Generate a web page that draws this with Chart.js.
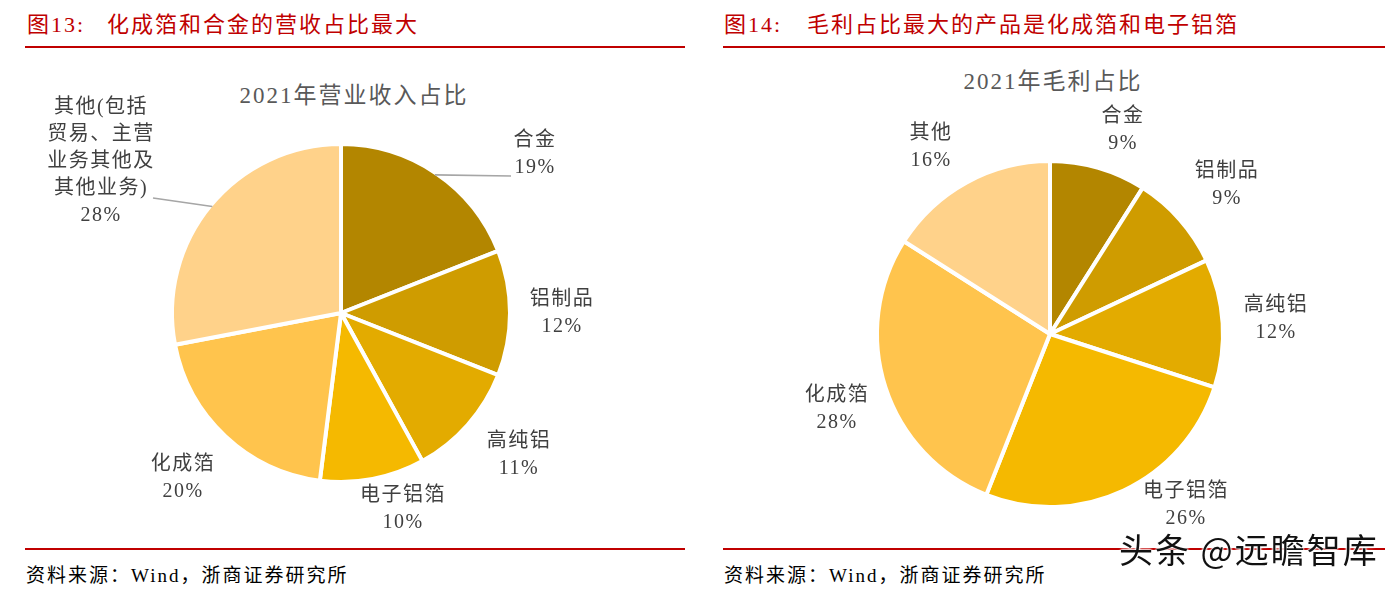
<!DOCTYPE html>
<html>
<head>
<meta charset="utf-8">
<script src="https://cdn.jsdelivr.net/npm/chart.js@4/dist/chart.umd.min.js"></script>
<style>
    body { margin: 0; width: 1394px; height: 593px; background: #fff; position: relative; overflow: hidden;
        font-family: "Liberation Serif", "Noto Sans CJK SC", serif; }
    .head { position: absolute; top: 14px; font-size: 22px; line-height: 1; color: #C00000; letter-spacing: 2px; white-space: nowrap; }
    .rule { position: absolute; height: 2px; background: #C00000; }
    .foot { position: absolute; top: 566px; font-size: 19px; line-height: 1; color: #000; letter-spacing: 2px; white-space: nowrap; }
    .ctitle { position: absolute; font-size: 23px; line-height: 1; color: #595959; letter-spacing: 2px; transform: translateX(-50%); white-space: nowrap; }
    .box { position: absolute; top: 60px; height: 485px; }
    .mark { position: absolute; left: 1119px; top: 532px; font-family: "Noto Sans CJK SC", sans-serif; font-size: 34px; line-height: 1;
        color: #111; letter-spacing: 2px; white-space: nowrap;
        text-shadow: 0 0 2px #fff, 0 0 2px #fff, 0 0 3px #fff, 0 0 3px #fff; }
</style>
</head>
<body>
<div class="head" style="left:27px">图13:</div>
<div class="head" style="left:107px">化成箔和合金的营收占比最大</div>
<div class="head" style="left:724px">图14:</div>
<div class="head" style="left:807px">毛利占比最大的产品是化成箔和电子铝箔</div>
<div class="rule" style="left:25px; width:660px; top:46px"></div>
<div class="rule" style="left:723px; width:662px; top:46px"></div>
<div class="rule" style="left:25px; width:660px; top:548px"></div>
<div class="rule" style="left:723px; width:662px; top:548px"></div>
<div class="foot" style="left:26px">资料来源：Wind，浙商证券研究所</div>
<div class="foot" style="left:724px">资料来源：Wind，浙商证券研究所</div>

<div class="ctitle" style="left:354px; top:84px">2021年营业收入占比</div>
<div class="ctitle" style="left:1053px; top:70px">2021年毛利占比</div>

<div class="box" style="left:25px; width:660px"><canvas id="revenueChart" width="660" height="485"></canvas></div>
<div class="box" style="left:723px; width:662px"><canvas id="profitChart" width="662" height="485"></canvas></div>

<div class="mark">头条 @远瞻智库</div>

<script>
// categories (clockwise from 12 o'clock)
const revenueLabels = [["合金"], ["铝制品"], ["高纯铝"], ["电子铝箔"], ["化成箔"], ["其他(包括", "贸易、主营", "业务其他及", "其他业务)"]];
const revenueValues = [19, 12, 11, 10, 20, 28];

const profitLabels = [["合金"], ["铝制品"], ["高纯铝"], ["电子铝箔"], ["化成箔"], ["其他"]];
const profitValues = [9, 9, 12, 26, 28, 16];

const sliceColors = ["#B38600", "#CF9C00", "#E3AB00", "#F5B900", "#FFC44D", "#FFD28A"];

// label placement, offset of first text line from pie centre
const revenueLabelPos = [[193, -172], [220, -13], [177, 129], [61, 183], [-159, 152], [-241, -205]];
const revenueLeaders = { 0: [170, -137], 5: [-188, -115] };
const profitLabelPos = [[72, -217], [176, -162], [225, -28], [135, 158], [-214, 62], [-120, -200]];

function labelPlugin(names, labelPos, leaders) {
    return {
        id: "sliceLabels",
        afterDatasetsDraw(chart) {
            const ctx = chart.ctx;
            const arcs = chart.getDatasetMeta(0).data;
            const values = chart.data.datasets[0].data;
            ctx.save();
            arcs.forEach((arc, i) => {
                const cx = arc.x, cy = arc.y;
                if (leaders[i]) {
                    const mid = (arc.startAngle + arc.endAngle) / 2;
                    const r = arc.outerRadius - 2;
                    ctx.beginPath();
                    ctx.strokeStyle = "#A6A6A6";
                    ctx.lineWidth = 1.6;
                    ctx.moveTo(cx + Math.cos(mid) * r, cy + Math.sin(mid) * r);
                    ctx.lineTo(cx + leaders[i][0], cy + leaders[i][1]);
                    ctx.stroke();
                }
                const lines = names[i].concat([values[i] + "%"]);
                ctx.fillStyle = "#404040";
                ctx.font = '20px "Liberation Serif", "Noto Sans CJK SC", serif';
                ctx.letterSpacing = "1.5px";
                ctx.textAlign = "center";
                ctx.textBaseline = "middle";
                lines.forEach((t, k) => {
                    ctx.fillText(t, cx + labelPos[i][0] + 1, cy + labelPos[i][1] + k * 27);
                });
            });
            ctx.restore();
        }
    };
}

function pieChart(id, names, values, padding, labels) {
    const ctx = document.getElementById(id).getContext("2d");
    return new Chart(ctx, {
        type: "pie",
        data: {
            labels: names.map(n => n.join("")),
            datasets: [{
                data: values,
                backgroundColor: sliceColors,
                borderColor: "#ffffff",
                borderWidth: 4
            }]
        },
        options: {
            responsive: false,
            animation: false,
            layout: { padding: padding },
            plugins: {
                legend: { display: false },
                title: { display: false },
                tooltip: { enabled: false }
            }
        },
        plugins: [labels]
    });
}

pieChart("revenueChart", revenueLabels, revenueValues,
    { left: 145, right: 173, top: 82, bottom: 61 },
    labelPlugin(revenueLabels, revenueLabelPos, revenueLeaders));

pieChart("profitChart", profitLabels, profitValues,
    { left: 152, right: 160, top: 99, bottom: 36 },
    labelPlugin(profitLabels, profitLabelPos, {}));
</script>
</body>
</html>
